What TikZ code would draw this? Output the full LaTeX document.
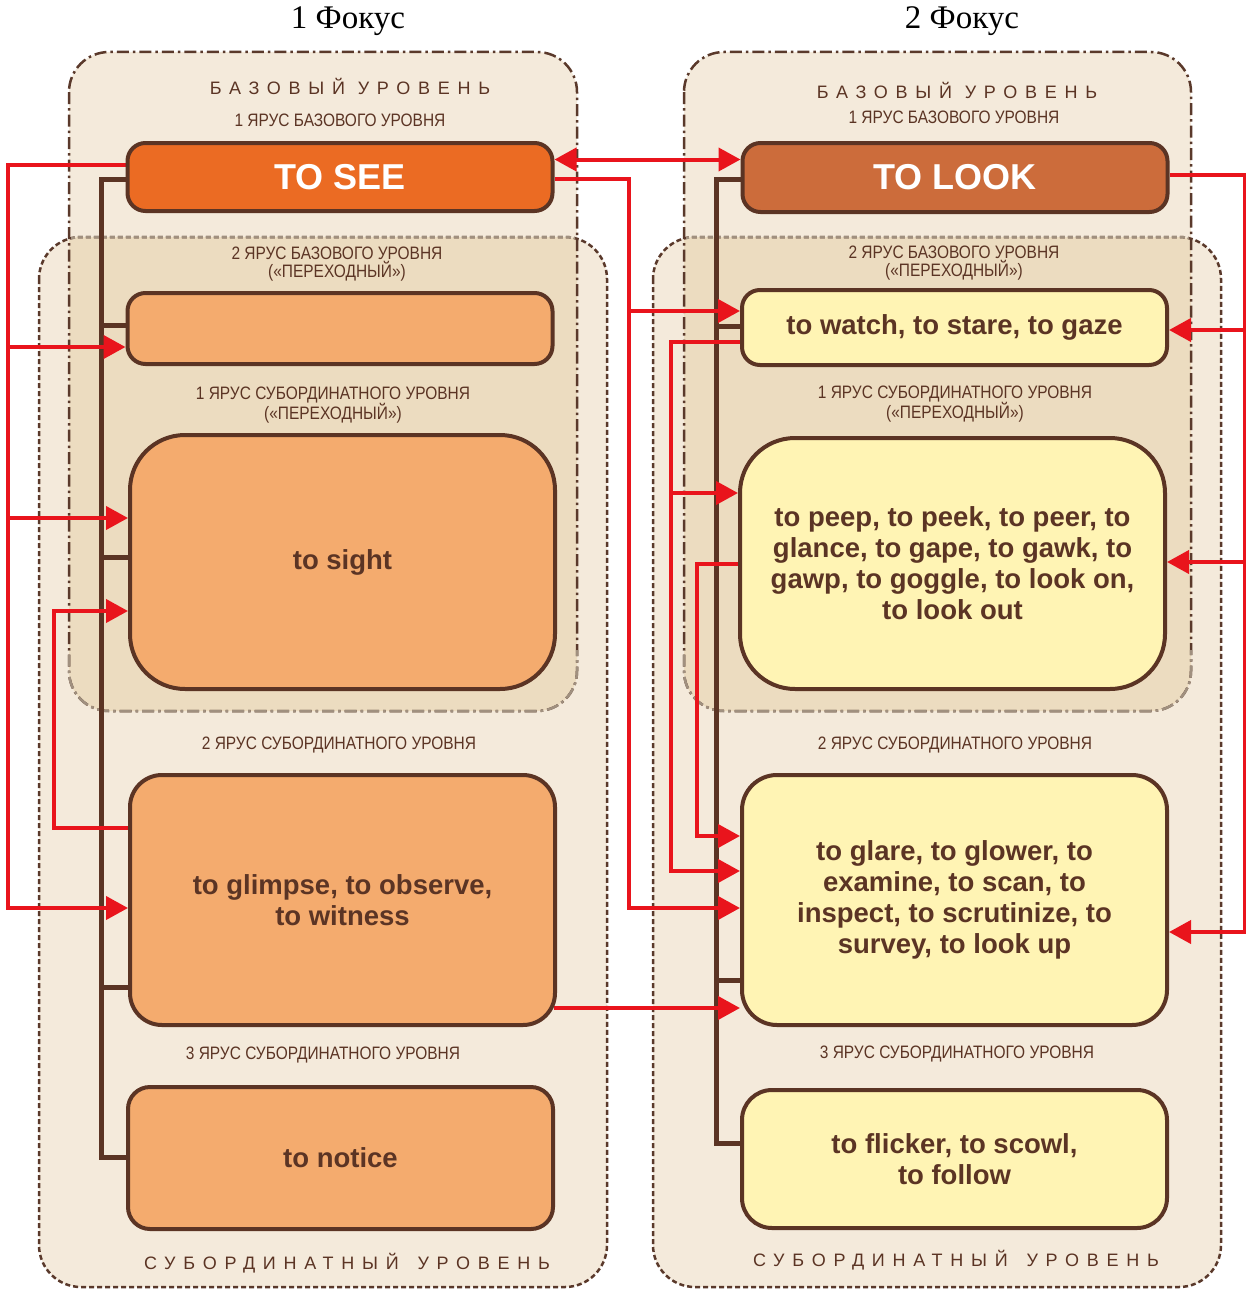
\documentclass[tikz,border=0pt]{standalone}
\usepackage{fontspec}
\setmainfont{Liberation Serif}
\newfontfamily\boxfont{Liberation Sans}
\newfontfamily\narrowfont[FakeStretch=0.86]{Liberation Sans}
\newfontfamily\widefont[LetterSpace=43]{Liberation Sans}
\usetikzlibrary{arrows.meta}

\definecolor{panel}{HTML}{F4EADB}
\definecolor{overlap}{HTML}{ECDCC0}
\definecolor{edge}{HTML}{5A392B}
\definecolor{edgesoft}{HTML}{A0907F}
\definecolor{ink}{HTML}{5B3424}
\definecolor{seefill}{HTML}{EB6B23}
\definecolor{lookfill}{HTML}{CC6C3B}
\definecolor{peach}{HTML}{F4AB6E}
\definecolor{cream}{HTML}{FFF4B4}
\definecolor{arrowred}{HTML}{E9141C}

\pgfdeclarelayer{bg}
\pgfdeclarelayer{mid}
\pgfsetlayers{bg,mid,main}

\tikzset{
  wordbox/.style={draw=ink, line width=4pt, rounded corners=#1, minimum width=425pt,
    inner sep=0pt, align=center, text=ink,
    font=\boxfont\bfseries\fontsize{27.5}{31}\selectfont},
  wordbox/.default=18pt,
  headbox/.style={wordbox=18pt, text=white, font=\boxfont\bfseries\fontsize{36}{40}\selectfont},
  tierlabel/.style={text=ink, align=center, inner sep=0pt,
    font=\narrowfont\fontsize{18}{18}\selectfont},
  levellabel/.style={text=ink, inner sep=0pt, font=\widefont\fontsize{18}{18}\selectfont},
  focustitle/.style={text=black, inner sep=0pt, font=\fontsize{33}{36}\selectfont},
  baseframe/.style={line width=2.5pt, dash pattern=on 12pt off 4pt on 2.5pt off 4pt, rounded corners=40pt},
  subframe/.style={line width=2.5pt, dash pattern=on 5pt off 3pt, rounded corners=42pt},
  tree/.style={draw=ink, line width=5pt},
  link/.style={draw=arrowred, line width=4pt},
  redtip/.style={-{Triangle[length=22pt,width=23pt]}},
}

\begin{document}
\begin{tikzpicture}[x=1pt,y=-1pt]
\useasboundingbox (0,0) rectangle (1246,1290);

% ---------- level frames ----------
\begin{pgfonlayer}{bg}
\fill[white] (0,0) rectangle (1246,1290);
% left column
\fill[panel, rounded corners=42pt] (39,237) rectangle (607,1287);
\fill[panel, rounded corners=40pt] (69,52) rectangle (577,711);
\begin{scope}
  \clip[rounded corners=40pt] (69,52) rectangle (577,711);
  \fill[overlap, rounded corners=42pt] (39,237) rectangle (607,1287);
\end{scope}
\draw[subframe, edge] (39,237) rectangle (607,1287);
\draw[baseframe, edge] (69,52) rectangle (577,711);
\begin{scope}
  \clip (71,54) rectangle (575,709);
  \draw[subframe, edgesoft] (39,237) rectangle (607,1287);
\end{scope}
\begin{scope}
  \clip (41,650) rectangle (605,1285);
  \draw[baseframe, edgesoft] (69,52) rectangle (577,711);
\end{scope}
% right column
\fill[panel, rounded corners=42pt] (653,237) rectangle (1221,1287);
\fill[panel, rounded corners=40pt] (684,52) rectangle (1191,711);
\begin{scope}
  \clip[rounded corners=40pt] (684,52) rectangle (1191,711);
  \fill[overlap, rounded corners=42pt] (653,237) rectangle (1221,1287);
\end{scope}
\draw[subframe, edge] (653,237) rectangle (1221,1287);
\draw[baseframe, edge] (684,52) rectangle (1191,711);
\begin{scope}
  \clip (686,54) rectangle (1189,709);
  \draw[subframe, edgesoft] (653,237) rectangle (1221,1287);
\end{scope}
\begin{scope}
  \clip (655,650) rectangle (1219,1285);
  \draw[baseframe, edgesoft] (684,52) rectangle (1191,711);
\end{scope}
\end{pgfonlayer}

% ---------- titles and level labels ----------
\node[focustitle] (focus1) at (348,21) {1 Фокус};
\node[focustitle] (focus2) at (962,21) {2 Фокус};

\node[levellabel] (baseL) at (350,86) {БАЗОВЫЙ УРОВЕНЬ};
\node[levellabel] (baseR) at (957,90) {БАЗОВЫЙ УРОВЕНЬ};
\node[levellabel] (subL) at (347,1263) {СУБОРДИНАТНЫЙ\hspace{6pt} УРОВЕНЬ};
\node[levellabel] (subR) at (956,1260) {СУБОРДИНАТНЫЙ\hspace{6pt} УРОВЕНЬ};

\node[tierlabel] (b1L) at (340,120) {1 ЯРУС БАЗОВОГО УРОВНЯ};
\node[tierlabel] (b1R) at (954,117) {1 ЯРУС БАЗОВОГО УРОВНЯ};
\node[tierlabel] (b2L) at (337,264) {2 ЯРУС БАЗОВОГО УРОВНЯ\\(«ПЕРЕХОДНЫЙ»)};
\node[tierlabel] (b2R) at (954,263) {2 ЯРУС БАЗОВОГО УРОВНЯ\\(«ПЕРЕХОДНЫЙ»)};
\node[tierlabel] (s1L) at (333,405) {1 ЯРУС СУБОРДИНАТНОГО УРОВНЯ\\(«ПЕРЕХОДНЫЙ»)};
\node[tierlabel] (s1R) at (955,404) {1 ЯРУС СУБОРДИНАТНОГО УРОВНЯ\\(«ПЕРЕХОДНЫЙ»)};
\node[tierlabel] (s2L) at (339,745) {2 ЯРУС СУБОРДИНАТНОГО УРОВНЯ};
\node[tierlabel] (s2R) at (955,745) {2 ЯРУС СУБОРДИНАТНОГО УРОВНЯ};
\node[tierlabel] (s3L) at (323,1055) {3 ЯРУС СУБОРДИНАТНОГО УРОВНЯ};
\node[tierlabel] (s3R) at (957,1054) {3 ЯРУС СУБОРДИНАТНОГО УРОВНЯ};

% ---------- word boxes ----------
\node[headbox, fill=seefill, minimum height=68pt] (see) at (340,177) {TO SEE};
\node[wordbox, fill=peach, minimum height=71pt] (tier2L) at (340,328.5) {};
\node[wordbox=55pt, fill=peach, minimum height=254pt] (sight) at (342.5,562) {to sight};
\node[wordbox=32pt, fill=peach, minimum height=250pt] (glimpse) at (342.5,900) {to glimpse, to observe,\\to witness};
\node[wordbox=22pt, fill=peach, minimum height=142pt] (notice) at (340.5,1158) {to notice};

\node[headbox, fill=lookfill, minimum height=69pt] (look) at (955,177.5) {TO LOOK};
\node[wordbox, fill=cream, minimum height=75pt] (watch) at (954.5,327.5) {to watch, to stare, to gaze};
\node[wordbox=55pt, fill=cream, minimum height=251pt] (peep) at (952.5,563.5)
  {to peep, to peek, to peer, to\\glance, to gape, to gawk, to\\gawp, to goggle, to look on,\\to look out};
\node[wordbox=35pt, fill=cream, minimum height=250pt] (glare) at (954.5,900)
  {to glare, to glower, to\\examine, to scan, to\\inspect, to scrutinize, to\\survey, to look up};
\node[wordbox=30pt, fill=cream, minimum height=138pt] (flicker) at (954.5,1159) {to flicker, to scowl,\\to follow};

% ---------- hierarchy lines ----------
\begin{pgfonlayer}{mid}
\coordinate (lt) at (101,179);
\coordinate (lb) at (101,1157);
\draw[tree] (lt -| see.west) -- (lt) -- (lb) -- (lb -| notice.west);
\coordinate (lk2) at (101,325);
\draw[tree] (lk2) -- (lk2 -| tier2L.west);
\coordinate (lk3) at (101,557);
\draw[tree] (lk3) -- (lk3 -| sight.west);
\coordinate (lk4) at (101,987);
\draw[tree] (lk4) -- (lk4 -| glimpse.west);

\coordinate (rt) at (716,179);
\coordinate (rb) at (716,1143);
\draw[tree] (rt -| look.west) -- (rt) -- (rb) -- (rb -| flicker.west);
\coordinate (rk2) at (716,326);
\draw[tree] (rk2) -- (rk2 -| watch.west);
\coordinate (rk4) at (716,980);
\draw[tree] (rk4) -- (rk4 -| glare.west);

% ---------- links ----------
% left trunk from TO SEE
\coordinate (lr) at (8,0);
\coordinate (seeOutL) at ([yshift=12pt]see.west);
\coordinate (glimpseIn) at ([yshift=-8pt]glimpse.west);
\draw[link,redtip] (seeOutL) -| (lr |- glimpseIn) -- (glimpseIn);
\coordinate (tier2In) at ([yshift=-18.5pt]tier2L.west);
\draw[link,redtip] (lr |- tier2In) -- (tier2In);
\coordinate (sightIn) at ([yshift=44pt]sight.west);
\draw[link,redtip] (lr |- sightIn) -- (sightIn);

% glimpse back to sight
\coordinate (lr2) at (54,0);
\coordinate (glimpseOut) at ([yshift=72pt]glimpse.west);
\coordinate (sightIn2) at ([yshift=-49pt]sight.west);
\draw[link,redtip] (glimpseOut) -| (lr2 |- sightIn2) -- (sightIn2);

% TO SEE <-> TO LOOK
\coordinate (pairA) at ([yshift=17.5pt]see.east);
\draw[link,{Triangle[length=22pt,width=23pt]}-{Triangle[length=22pt,width=23pt]}]
  (pairA) -- (pairA -| look.west);

% TO SEE to the second focus
\coordinate (m1) at (629,0);
\coordinate (seeOutR) at ([yshift=-2pt]see.east);
\coordinate (glareIn1) at ([yshift=-8pt]glare.west);
\draw[link,redtip] (seeOutR) -| (m1 |- glareIn1) -- (glareIn1);
\coordinate (watchIn) at ([yshift=16.5pt]watch.west);
\draw[link,redtip] (m1 |- watchIn) -- (watchIn);

% watch trunk
\coordinate (m2) at (671,0);
\coordinate (watchOut) at ([yshift=-14.5pt]watch.west);
\coordinate (glareIn2) at ([yshift=29pt]glare.west);
\draw[link,redtip] (watchOut) -| (m2 |- glareIn2) -- (glareIn2);
\coordinate (peepIn) at ([yshift=70.5pt]peep.west);
\draw[link,redtip] (m2 |- peepIn) -- (peepIn);

% peep trunk
\coordinate (m3) at (697,0);
\coordinate (glareIn3) at ([yshift=64pt]glare.west);
\draw[link,redtip] (peep.west) -| (m3 |- glareIn3) -- (glareIn3);

% glimpse to glare
\coordinate (glimpseOutR) at ([yshift=-108pt,xshift=-3pt]glimpse.east);
\draw[link,redtip] (glimpseOutR) -- (glimpseOutR -| glare.west);

% right trunk from TO LOOK
\coordinate (rr) at (1245,0);
\coordinate (lookOut) at ([yshift=2.5pt]look.east);
\coordinate (glareIn4) at ([yshift=-32pt]glare.east);
\draw[link,redtip] (lookOut) -| (rr |- glareIn4) -- (glareIn4);
\coordinate (watchInR) at ([yshift=-2.5pt]watch.east);
\draw[link,redtip] (rr |- watchInR) -- (watchInR);
\coordinate (peepInR) at ([yshift=1.5pt]peep.east);
\draw[link,redtip] (rr |- peepInR) -- (peepInR);
\end{pgfonlayer}
\end{tikzpicture}
\end{document}
